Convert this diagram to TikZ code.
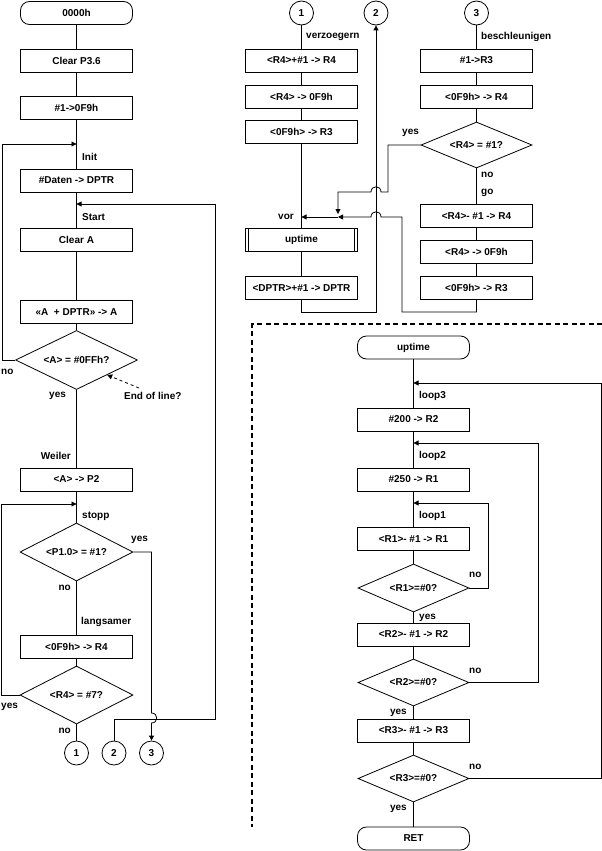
\documentclass[tikz,border=0pt]{standalone}
\usepackage{fontspec}
\setmainfont{Liberation Sans}
\usetikzlibrary{shapes.geometric,arrows.meta}
\begin{document}
\begin{tikzpicture}[x=1pt,y=-1pt,
  txt/.style={font=\bfseries\fontsize{10}{12}\selectfont},
  base/.style={draw, line width=0.8pt, txt, inner sep=0pt},
  proc/.style={base, rectangle, minimum width=112pt, minimum height=23pt},
  term/.style={base, rectangle, rounded corners=9pt, minimum width=112pt, minimum height=23pt},
  subr/.style={proc, path picture={
     \draw[line width=0.8pt] ([xshift=3.2pt]path picture bounding box.north west) -- ([xshift=3.2pt]path picture bounding box.south west);
     \draw[line width=0.8pt] ([xshift=-3.2pt]path picture bounding box.north east) -- ([xshift=-3.2pt]path picture bounding box.south east);}},
  dec/.style={base, diamond, shape aspect=2.3, minimum width=112pt, minimum height=47pt},
  conn/.style={base, circle, minimum size=24pt},
  lbl/.style={txt, inner sep=0pt},
  wire/.style={line width=0.8pt},
  arr/.style={wire, -{Triangle[length=5pt,width=5pt]}}]
\useasboundingbox (0,0) rectangle (602,851);

% ---------------- left column ----------------
\node[term] (t0) at (76.5,13) {0000h};
\node[proc] (b1) at (76.5,60.5) {Clear P3.6};
\node[proc] (b2) at (76.5,108) {\#1->0F9h};
\coordinate (initin) at (76.5,144);
\node[lbl,anchor=west] (linit) at (82,157) {Init};
\node[proc] (b3) at (76.5,180.5) {\#Daten -> DPTR};
\coordinate (startin) at (76.5,204);
\node[lbl,anchor=west] (lstart) at (82,217) {Start};
\node[proc] (b4) at (76.5,240) {Clear A};
\node[proc] (b5) at (76.5,312) {«A\ \ + DPTR» -> A};
\node[dec, minimum width=122pt, minimum height=59pt] (d1) at (76.5,360) {<A> = \#0FFh?};
\node[lbl,anchor=west] (lno1) at (1,372) {no};
\node[lbl,anchor=west] (lyes1) at (49,396) {yes};
\node[lbl,anchor=west] (leol) at (124,396) {End of line?};
\coordinate (eolc) at (139,388);
\node[lbl,anchor=east] (lweiler) at (71,456) {Weiler};
\node[proc] (b6) at (76.5,479.5) {<A> -> P2};
\coordinate (stoppin) at (76.5,504);
\node[lbl,anchor=west] (lstopp) at (82,516) {stopp};
\node[dec, minimum width=113pt, minimum height=58pt] (d2) at (76.5,552) {<P1.0> = \#1?};
\node[lbl,anchor=west] (lyes2) at (131,540) {yes};
\node[lbl,anchor=east] (lno2) at (71,588) {no};
\node[lbl,anchor=west] (llang) at (81,622) {langsamer};
\node[proc] (b7) at (76.5,646.5) {<0F9h> -> R4};
\node[dec, minimum width=113pt, minimum height=58pt] (d3) at (76.5,695) {<R4> = \#7?};
\node[lbl,anchor=west] (lyes3) at (1,707) {yes};
\node[lbl,anchor=east] (lno3) at (71,731) {no};
\node[conn] (c1) at (76.5,753) {1};
\node[conn] (c2) at (114,753) {2};
\node[conn] (c3) at (151.5,753) {3};

\draw[wire] (t0) -- (b1);
\draw[wire] (b1) -- (b2);
\draw[wire] (b2) -- (b3);
\draw[wire] (b3) -- (b4);
\draw[wire] (b4) -- (b5);
\draw[wire] (b5) -- (d1);
\draw[wire] (d1) -- (b6);
\draw[wire] (b6) -- (d2);
\draw[wire] (d2) -- (b7);
\draw[wire] (b7) -- (d3);
\draw[wire] (d3) -- (c1);
\draw[arr] (d1.west) -- ++(-13,0) |- (initin);
\draw[arr] (d3.west) -- ++(-18,0) |- (stoppin);
\draw[arr] (d2.east) -- (151.5,552) -- (151.5,713) .. controls (158.5,713) and (158.5,723) .. (151.5,723) -- (c3.north);
\draw[arr] (c2.north) |- (215,719) |- (startin);
\draw[arr, dash pattern=on 3pt off 3pt] (eolc) -- (d1.south east);

% ---------------- right column 1 ----------------
\node[conn] (c4) at (301.5,13) {1};
\node[conn] (c5) at (376,13) {2};
\node[conn] (c6) at (476.5,13) {3};
\node[lbl,anchor=west] (lverz) at (306,37) {verzoegern};
\node[proc] (r1) at (301.5,60.5) {<R4>+\#1 -> R4};
\node[proc] (r2) at (301.5,96.5) {<R4> -> 0F9h};
\node[proc] (r3) at (301.5,132) {<0F9h> -> R3};
\coordinate (vorin) at (301.5,217);
\node[lbl,anchor=east] (lvor) at (294,217) {vor};
\node[subr] (r4) at (301.5,239.5) {uptime};
\node[proc] (r5) at (301.5,288) {<DPTR>+\#1 -> DPTR};

\draw[wire] (c4) -- (r1);
\draw[wire] (r1) -- (r2);
\draw[wire] (r2) -- (r3);
\draw[wire] (r3) -- (r4);
\draw[wire] (r4) -- (r5);
\draw[arr] (r5.south) -- ++(0,12.5) -| (c5.south);

% ---------------- right column 3 ----------------
\node[lbl,anchor=west] (lbesch) at (481,37) {beschleunigen};
\node[proc] (s1) at (476.5,60.5) {\#1->R3};
\node[proc] (s2) at (476.5,96.5) {<0F9h> -> R4};
\node[dec, minimum width=111pt, minimum height=46pt] (sd) at (476.5,145) {<R4> = \#1?};
\node[lbl,anchor=west] (lyes4) at (402,133) {yes};
\node[lbl,anchor=west] (lno4) at (481,175) {no};
\node[lbl,anchor=west] (lgo) at (481,193) {go};
\node[proc] (s3) at (476.5,216) {<R4>- \#1 -> R4};
\node[proc] (s4) at (476.5,252) {<R4> -> 0F9h};
\node[proc] (s5) at (476.5,287.5) {<0F9h> -> R3};
\coordinate (jn) at (338,217);

\draw[wire] (c6) -- (s1);
\draw[wire] (s1) -- (s2);
\draw[wire] (s2) -- (sd);
\draw[wire] (sd) -- (s3);
\draw[wire] (s3) -- (s4);
\draw[wire] (s4) -- (s5);
\draw[arr] (s5.south) -- ++(0,12.5) -| (402,217) -- (381,217) .. controls (381,210) and (371,210) .. (371,217) -- (jn);
\draw[arr] (sd.west) -- (388,145) -- (388,192) -- (381,192) .. controls (381,185) and (371,185) .. (371,192) -- (338,192) -- ([yshift=3pt]jn);
\draw[arr] (jn) -- (vorin);

% ---------------- subroutine uptime ----------------
\draw[line width=1.6pt, dash pattern=on 5pt off 3.5pt] (602,324) -- (252,324) -- (252,827);
\node[term] (u0) at (413.5,347.5) {uptime};
\coordinate (l3in) at (413.5,383);
\node[lbl,anchor=west] (ll3) at (419,396) {loop3};
\node[proc] (u1) at (413.5,419.5) {\#200 -> R2};
\coordinate (l2in) at (413.5,443);
\node[lbl,anchor=west] (ll2) at (419,456) {loop2};
\node[proc] (u2) at (413.5,479.5) {\#250 -> R1};
\coordinate (l1in) at (413.5,503);
\node[lbl,anchor=west] (ll1) at (419,516) {loop1};
\node[proc] (u3) at (413.5,539) {<R1>- \#1 -> R1};
\node[dec, minimum width=111pt, minimum height=48pt] (ud1) at (413.5,588) {<R1>=\#0?};
\node[lbl,anchor=west] (lno5) at (469,575) {no};
\node[lbl,anchor=west] (lyes5) at (419,618) {yes};
\node[proc] (u4) at (413.5,634.5) {<R2>- \#1 -> R2};
\node[dec, minimum width=111pt, minimum height=47pt] (ud2) at (413.5,682.5) {<R2>=\#0?};
\node[lbl,anchor=west] (lno6) at (469,671) {no};
\node[lbl,anchor=east] (lyes6) at (407,713) {yes};
\node[proc] (u5) at (413.5,730.5) {<R3>- \#1 -> R3};
\node[dec, minimum width=111pt, minimum height=47pt] (ud3) at (413.5,778.5) {<R3>=\#0?};
\node[lbl,anchor=west] (lno7) at (469,767) {no};
\node[lbl,anchor=east] (lyes7) at (407,809) {yes};
\node[term] (u6) at (413.5,838.5) {RET};

\draw[wire] (u0) -- (u1);
\draw[wire] (u1) -- (u2);
\draw[wire] (u2) -- (u3);
\draw[wire] (u3) -- (ud1);
\draw[wire] (ud1) -- (u4);
\draw[wire] (u4) -- (ud2);
\draw[wire] (ud2) -- (u5);
\draw[wire] (u5) -- (ud3);
\draw[wire] (ud3) -- (u6);
\draw[arr] (ud1.east) -- ++(19,0) |- (l1in);
\draw[arr] (ud2.east) -- ++(69,0) |- (l2in);
\draw[arr] (ud3.east) -- ++(131.5,0) |- (l3in);
\end{tikzpicture}
\end{document}
